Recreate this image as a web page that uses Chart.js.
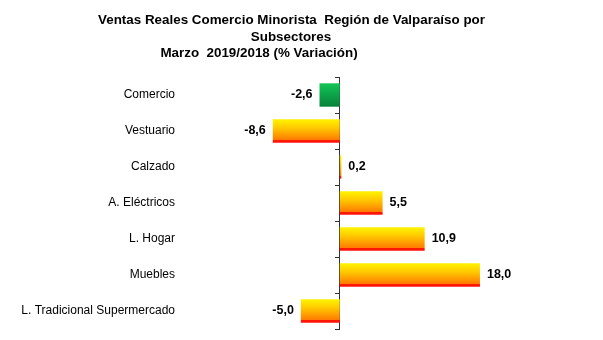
<!DOCTYPE html>
<html lang="es">
<head>
  <meta charset="UTF-8">
  <title>Ventas Reales Comercio Minorista</title>
  <style>
    body { margin: 0; background: #ffffff; }
    .wrap { width: 603px; height: 340px; position: relative; }
  </style>
</head>
<body>
  <div class="wrap"><canvas id="chart"></canvas></div>

  <script src="https://cdn.jsdelivr.net/npm/chart.js"></script>
  <script>
    const titleLines = [
      'Ventas Reales Comercio Minorista  Región de Valparaíso por',
      'Subsectores',
      'Marzo  2019/2018 (% Variación)'
    ];
    const categories = ['Comercio', 'Vestuario', 'Calzado', 'A. Eléctricos', 'L. Hogar', 'Muebles', 'L. Tradicional Supermercado'];
    const variacion = [-2.6, -8.6, 0.2, 5.5, 10.9, 18.0, -5.0];
    const barPct = 0.65;

    // gradient per bar, built from the bar's own band on the y scale
    function barFill(c) {
      const chart = c.chart;
      const y = chart.scales.y;
      const fallback = c.dataIndex === 0 ? '#0aa048' : '#ffc000';
      if (!y || c.dataIndex === undefined) return fallback;
      const center = y.getPixelForValue(c.dataIndex);
      const half = y.height / categories.length * barPct / 2;
      if (!isFinite(center) || !isFinite(half) || half <= 0) return fallback;
      const g = chart.ctx.createLinearGradient(0, center - half, 0, center + half);
      if (c.dataIndex === 0) {
        g.addColorStop(0, '#12c656');
        g.addColorStop(1, '#07803a');
      } else {
        g.addColorStop(0, '#fff400');
        g.addColorStop(0.4, '#ffc400');
        g.addColorStop(0.87, '#ff7c00');
        g.addColorStop(0.89, '#ff1a00');
        g.addColorStop(1, '#ff1010');
      }
      return g;
    }

    const titlePlugin = {
      id: 'titleLines',
      afterDraw(chart) {
        const ctx = chart.ctx;
        const centers = [291.5, 291, 259];
        ctx.save();
        ctx.font = 'bold 13.4px "Liberation Sans", Arial, sans-serif';
        ctx.fillStyle = '#000';
        ctx.textAlign = 'center';
        ctx.textBaseline = 'middle';
        titleLines.forEach((t, i) => ctx.fillText(t, centers[i], 20.5 + i * 16.5));
        ctx.restore();
      }
    };

    const valuePlugin = {
      id: 'valueLabels',
      afterDatasetsDraw(chart) {
        const ctx = chart.ctx;
        const meta = chart.getDatasetMeta(0);
        ctx.save();
        ctx.font = 'bold 12.5px "Liberation Sans", Arial, sans-serif';
        ctx.fillStyle = '#000';
        ctx.textBaseline = 'middle';
        meta.data.forEach((bar, i) => {
          const v = variacion[i];
          const txt = v.toFixed(1).replace('.', ',');
          if (v < 0) {
            ctx.textAlign = 'right';
            ctx.fillText(txt, bar.x - 7, bar.y);
          } else {
            ctx.textAlign = 'left';
            ctx.fillText(txt, bar.x + 7, bar.y);
          }
        });
        ctx.restore();
      }
    };

    new Chart(document.getElementById('chart'), {
      type: 'bar',
      data: {
        labels: categories,
        datasets: [{
          data: variacion,
          backgroundColor: barFill,
          borderWidth: 0,
          barPercentage: barPct,
          categoryPercentage: 1
        }]
      },
      options: {
        indexAxis: 'y',
        responsive: true,
        maintainAspectRatio: false,
        animation: false,
        layout: { padding: { top: 77, right: 14, bottom: 11, left: 0 } },
        scales: {
          x: {
            display: false,
            min: -20,
            max: 32
          },
          y: {
            afterFit(scale) {
              scale.width = 184;
              scale.paddingTop = 0;
              scale.paddingBottom = 0;
            },
            ticks: {
              padding: 9,
              color: '#000',
              font: { family: '"Liberation Sans", Arial, sans-serif', size: 12 }
            },
            grid: { display: false, drawTicks: false },
            border: { display: false }
          },
          y2: {
            type: 'category',
            position: { x: 0 },
            offset: true,
            afterFit(scale) {
              scale.paddingTop = 0;
              scale.paddingBottom = 0;
            },
            ticks: { display: false },
            grid: { offset: true, drawOnChartArea: false, tickLength: 4, color: '#333' },
            border: { display: true, color: '#333', width: 1 }
          }
        },
        plugins: {
          legend: { display: false },
          tooltip: { enabled: false }
        }
      },
      plugins: [titlePlugin, valuePlugin]
    });
  </script>
</body>
</html>
